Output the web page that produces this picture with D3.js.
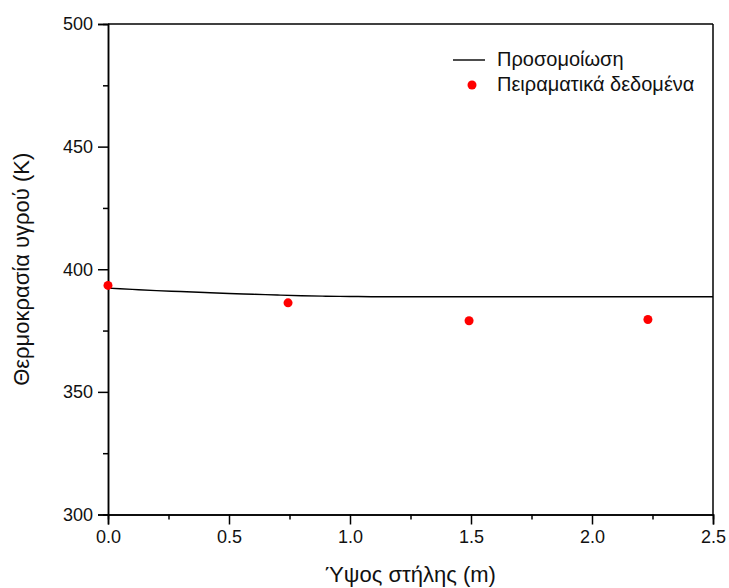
<!DOCTYPE html>
<html>
<head>
<meta charset="utf-8">
<script src="https://cdn.jsdelivr.net/npm/d3@7/dist/d3.min.js"></script>
<style>
  body { margin: 0; background: #fff; }
  svg text { font-family: "Liberation Sans", Arial, sans-serif; fill: #111; }
</style>
</head>
<body>
<svg id="chart" width="729" height="588"></svg>
<script>
// Simulated liquid temperature along the column
const simHeight = [0, 0.1, 0.2, 0.3, 0.4, 0.5, 0.6, 0.7, 0.8, 0.9, 1.0, 1.1, 1.5, 2.0, 2.5];
const simTemp   = [392.3, 391.8, 391.3, 390.9, 390.5, 390.1, 389.8, 389.5, 389.2, 389.0, 388.9, 388.8, 388.8, 388.8, 388.8];

// Experimental measurements
const expHeight = [0, 0.744, 1.492, 2.231];
const expTemp   = [393.4, 386.3, 379.0, 379.5];

const xTicks = [0, 0.5, 1.0, 1.5, 2.0, 2.5];
const yTicks = [300, 350, 400, 450, 500];
const xMinor = [0.25, 0.75, 1.25, 1.75, 2.25];
const yMinor = [325, 375, 425, 475];

const xTitle = "Ύψος στήλης (m)";
const yTitle = "Θερμοκρασία υγρού (K)";
const legendLabels = ["Προσομοίωση", "Πειραματικά δεδομένα"];

const svg = d3.select("#chart");
const m = { left: 108, right: 713, top: 24, bottom: 514.5 };

const x = d3.scaleLinear().domain([0, 2.5]).range([m.left, m.right]);
const y = d3.scaleLinear().domain([300, 500]).range([m.bottom, m.top]);

// Frame (top and right)
svg.append("line").attr("x1", m.left).attr("x2", m.right).attr("y1", m.top).attr("y2", m.top)
  .attr("stroke", "#000").attr("stroke-width", 1.5);
svg.append("line").attr("x1", m.right).attr("x2", m.right).attr("y1", m.top).attr("y2", m.bottom)
  .attr("stroke", "#000").attr("stroke-width", 1.5);

// X axis
const gx = svg.append("g").attr("transform", `translate(0,${m.bottom})`);
gx.call(d3.axisBottom(x).tickValues(xTicks).tickFormat(d3.format(".1f")).tickSize(10).tickPadding(6));
gx.append("g").call(d3.axisBottom(x).tickValues(xMinor).tickFormat("").tickSize(5));
// Y axis
const gy = svg.append("g").attr("transform", `translate(${m.left},0)`);
gy.call(d3.axisLeft(y).tickValues(yTicks).tickFormat(d3.format("d")).tickSize(10).tickPadding(5));
gy.append("g").call(d3.axisLeft(y).tickValues(yMinor).tickFormat("").tickSize(5));

svg.selectAll(".domain").attr("stroke", "#000").attr("stroke-width", 1.5);
svg.selectAll(".tick line").attr("stroke", "#000").attr("stroke-width", 1.5);
svg.selectAll(".tick text").attr("font-size", 18).style("font-family", "Liberation Sans, Arial, sans-serif").attr("fill", "#111");

// Axis titles
svg.append("text").attr("x", (m.left + m.right) / 2).attr("y", 582)
  .attr("text-anchor", "middle").attr("font-size", 22).text(xTitle);
svg.append("text").attr("transform", `translate(29,${(m.top + m.bottom) / 2}) rotate(-90)`)
  .attr("text-anchor", "middle").attr("font-size", 22).text(yTitle);

// Simulation line
const line = d3.line().x((d, i) => x(simHeight[i])).y(d => y(d)).curve(d3.curveMonotoneX);
svg.append("path").datum(simTemp).attr("d", line)
  .attr("fill", "none").attr("stroke", "#000").attr("stroke-width", 1.4);

// Experimental points
svg.selectAll("circle.exp").data(expTemp).enter().append("circle")
  .attr("class", "exp")
  .attr("cx", (d, i) => x(expHeight[i])).attr("cy", d => y(d)).attr("r", 4.5)
  .attr("fill", "#ff0000");

// Legend
const lg = svg.append("g");
lg.append("line").attr("x1", 453).attr("x2", 485).attr("y1", 60).attr("y2", 60)
  .attr("stroke", "#000").attr("stroke-width", 1.4);
lg.append("text").attr("x", 497).attr("y", 66).attr("font-size", 20).text(legendLabels[0]);
lg.append("circle").attr("cx", 472).attr("cy", 85).attr("r", 4.5).attr("fill", "#ff0000");
lg.append("text").attr("x", 497).attr("y", 91).attr("font-size", 20).text(legendLabels[1]);
</script>
</body>
</html>
